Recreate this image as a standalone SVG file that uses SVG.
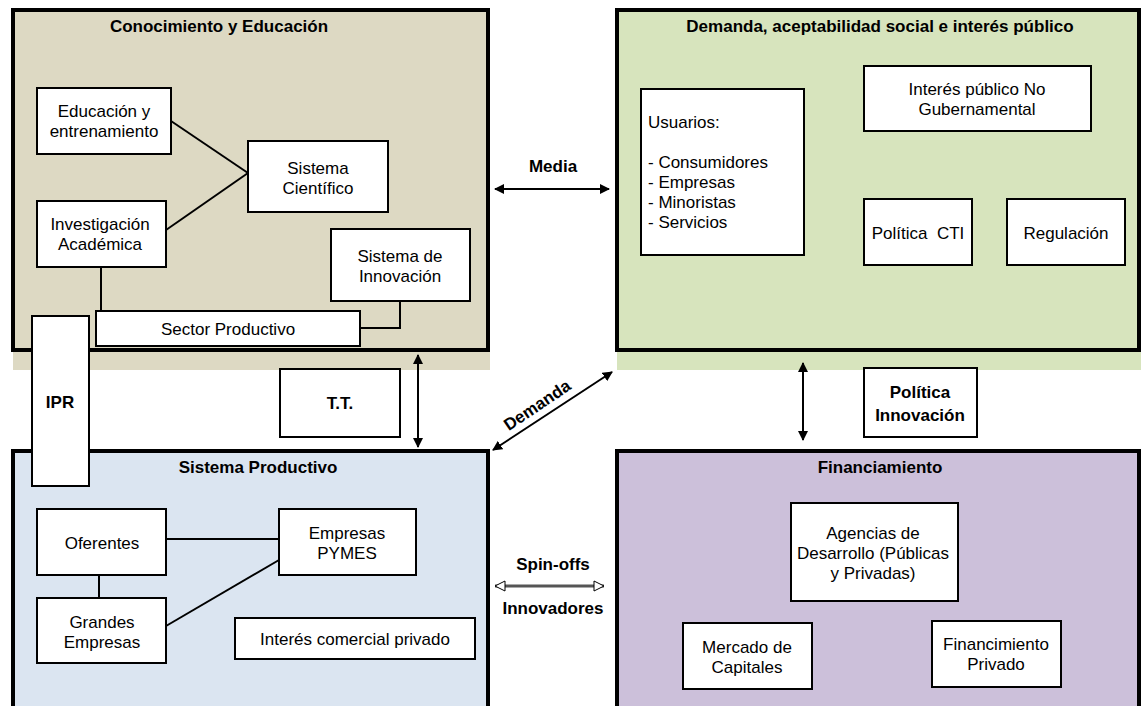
<svg xmlns="http://www.w3.org/2000/svg" width="1141" height="706" viewBox="0 0 1141 706">
<defs>
<style>
text{font-family:"Liberation Sans",Arial,sans-serif;font-size:17px;fill:#000}
.b{font-weight:bold}
.m{text-anchor:middle}
.panel{stroke:#000;stroke-width:4}
.box{fill:#fff;stroke:#000;stroke-width:2}
.ln{fill:none;stroke:#000;stroke-width:2}
</style>
<marker id="ah" viewBox="0 0 10 10" refX="9" refY="5" markerWidth="10" markerHeight="10" markerUnits="userSpaceOnUse" orient="auto-start-reverse">
<path d="M0,0 L10,5 L0,10 z" fill="#000"/>
</marker>
<marker id="ho" viewBox="0 0 12 12" refX="11" refY="6" markerWidth="12" markerHeight="12" markerUnits="userSpaceOnUse" orient="auto-start-reverse">
<path d="M1,1 L11,6 L1,11 z" fill="#fff" stroke="#000" stroke-width="1"/>
</marker>
</defs>
<rect width="1141" height="706" fill="#fff"/>

<!-- bands -->
<rect x="13" y="352" width="477" height="18" fill="#DDD9C3"/>
<rect x="617" y="352" width="524" height="18" fill="#D7E4BD"/>

<!-- panels -->
<g id="conocimiento">
<rect class="panel" x="13" y="10" width="475" height="340" fill="#DDD9C3"/>
<text class="b m" x="219" y="32">Conocimiento y Educación</text>
</g>
<g id="demanda-panel">
<rect class="panel" x="617" y="10" width="522" height="340" fill="#D7E4BD"/>
<text class="b m" x="880" y="32">Demanda, aceptabilidad social e interés público</text>
</g>
<g id="sistema-productivo">
<rect class="panel" x="13" y="451" width="475" height="280" fill="#DBE5F1"/>
<text class="b m" x="258" y="473">Sistema Productivo</text>
</g>
<g id="financiamiento">
<rect class="panel" x="617" y="451" width="522" height="280" fill="#CCC0DA"/>
<text class="b m" x="880" y="473">Financiamiento</text>
</g>

<!-- connectors -->
<g id="connectors">
<line class="ln" x1="171" y1="121" x2="248" y2="173"/>
<line class="ln" x1="166" y1="230" x2="248" y2="173"/>
<line class="ln" x1="101" y1="267" x2="101" y2="311"/>
<polyline class="ln" points="400,301 400,328 360,328"/>
<line class="ln" x1="166" y1="539" x2="279" y2="539"/>
<line class="ln" x1="99" y1="575" x2="99" y2="598"/>
<line class="ln" x1="166" y1="626" x2="279" y2="560"/>
<line class="ln" x1="495" y1="189" x2="609" y2="189" marker-start="url(#ah)" marker-end="url(#ah)"/>
<line class="ln" x1="418" y1="355" x2="418" y2="447" marker-start="url(#ah)" marker-end="url(#ah)"/>
<line class="ln" x1="803" y1="363" x2="803" y2="440" marker-start="url(#ah)" marker-end="url(#ah)"/>
<line class="ln" x1="493" y1="450" x2="612" y2="372" marker-start="url(#ah)" marker-end="url(#ah)"/>
<line x1="495" y1="586" x2="604" y2="586" stroke="#555" stroke-width="3" marker-start="url(#ho)" marker-end="url(#ho)"/>
</g>

<!-- connector labels -->
<text class="b m" x="553" y="172">Media</text>
<text class="b m" x="537" y="411" transform="rotate(-34 537 405)">Demanda</text>
<text class="b m" x="553" y="570">Spin-offs</text>
<text class="b m" x="553" y="614">Innovadores</text>

<!-- TL nodes -->
<g id="educacion"><rect class="box" x="37" y="88" width="134" height="66"/>
<text class="m" x="104" y="117">Educación y</text><text class="m" x="104" y="137">entrenamiento</text></g>
<g id="sistema-cientifico"><rect class="box" x="248" y="141" width="140" height="71"/>
<text class="m" x="318" y="174">Sistema</text><text class="m" x="318" y="194">Científico</text></g>
<g id="investigacion"><rect class="box" x="37" y="201" width="129" height="66"/>
<text class="m" x="100" y="230">Investigación</text><text class="m" x="100" y="250">Académica</text></g>
<g id="sistema-innovacion"><rect class="box" x="331" y="229" width="139" height="72"/>
<text class="m" x="400" y="262">Sistema de</text><text class="m" x="400" y="282">Innovación</text></g>
<g id="sector-productivo"><rect class="box" x="96" y="311" width="264" height="35"/>
<text class="m" x="228" y="335">Sector Productivo</text></g>

<!-- TR nodes -->
<g id="usuarios"><rect class="box" x="641" y="89" width="163" height="166"/>
<text x="648" y="128">Usuarios:</text>
<text x="648" y="168">- Consumidores</text>
<text x="648" y="188">- Empresas</text>
<text x="648" y="208">- Minoristas</text>
<text x="648" y="228">- Servicios</text></g>
<g id="interes-publico"><rect class="box" x="864" y="66" width="227" height="65"/>
<text class="m" x="977" y="95">Interés público No</text><text class="m" x="977" y="115">Gubernamental</text></g>
<g id="politica-cti"><rect class="box" x="864" y="199" width="108" height="66"/>
<text class="m" x="918" y="239" xml:space="preserve">Política  CTI</text></g>
<g id="regulacion"><rect class="box" x="1007" y="199" width="118" height="66"/>
<text class="m" x="1066" y="239">Regulación</text></g>

<!-- middle nodes -->
<g id="tt"><rect class="box" x="280" y="369" width="120" height="68"/>
<text class="b m" x="340" y="409">T.T.</text></g>
<g id="politica-innovacion"><rect class="box" x="864" y="368" width="113" height="69"/>
<text class="b m" x="920" y="398">Política</text><text class="b m" x="920" y="421">Innovación</text></g>

<!-- BL nodes -->
<g id="oferentes"><rect class="box" x="37" y="509" width="129" height="66"/>
<text class="m" x="102" y="549">Oferentes</text></g>
<g id="empresas-pymes"><rect class="box" x="279" y="509" width="137" height="66"/>
<text class="m" x="347" y="539">Empresas</text><text class="m" x="347" y="559">PYMES</text></g>
<g id="grandes-empresas"><rect class="box" x="37" y="598" width="129" height="65"/>
<text class="m" x="102" y="628">Grandes</text><text class="m" x="102" y="648">Empresas</text></g>
<g id="interes-comercial"><rect class="box" x="235" y="618" width="240" height="41"/>
<text class="m" x="355" y="645">Interés comercial privado</text></g>

<!-- BR nodes -->
<g id="agencias"><rect class="box" x="791" y="503" width="167" height="98"/>
<text class="m" x="873" y="539">Agencias de</text><text class="m" x="873" y="559">Desarrollo (Públicas</text><text class="m" x="873" y="579">y Privadas)</text></g>
<g id="mercado"><rect class="box" x="683" y="623" width="129" height="66"/>
<text class="m" x="747" y="653">Mercado de</text><text class="m" x="747" y="673">Capitales</text></g>
<g id="fin-privado"><rect class="box" x="932" y="621" width="129" height="66"/>
<text class="m" x="996" y="650">Financimiento</text><text class="m" x="996" y="670">Privado</text></g>

<!-- IPR on top -->
<g id="ipr"><rect class="box" x="32" y="316" width="57" height="170"/>
<text class="b m" x="60" y="408">IPR</text></g>
</svg>
